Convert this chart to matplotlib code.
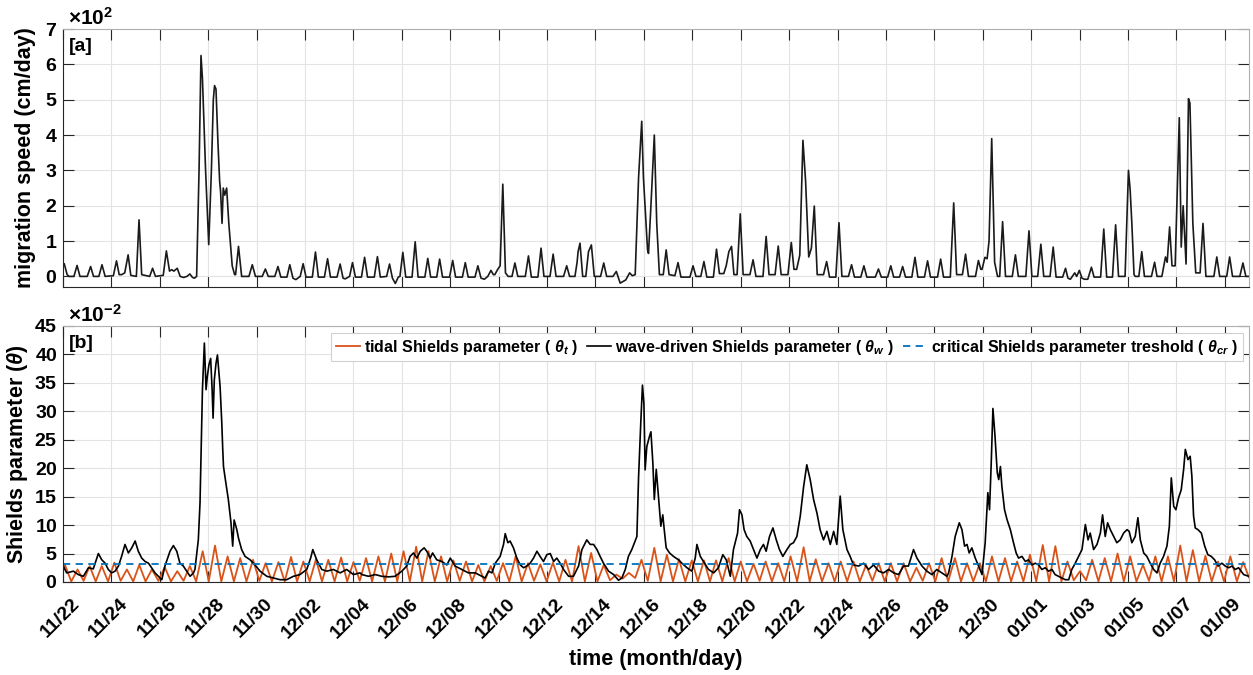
import numpy as np
import matplotlib.pyplot as plt
from matplotlib.ticker import ScalarFormatter
from matplotlib.transforms import ScaledTranslation

plt.rcParams['font.family'] = ['Liberation Sans', 'DejaVu Sans']
plt.rcParams['font.weight'] = 'bold'
plt.rcParams['mathtext.fontset'] = 'custom'
plt.rcParams['mathtext.rm'] = 'Liberation Sans:bold'
plt.rcParams['mathtext.it'] = 'Liberation Sans:italic'

# time axis: days since 11/22 00:00, labelled every two days
tick_labels = ['11/22', '11/24', '11/26', '11/28', '11/30', '12/02', '12/04', '12/06',
               '12/08', '12/10', '12/12', '12/14', '12/16', '12/18', '12/20', '12/22',
               '12/24', '12/26', '12/28', '12/30', '01/01', '01/03', '01/05', '01/07', '01/09']
n_days = 49

# bedform migration speed (day, cm/day)
speed_pts = [
    (0.0, 35), (0.05, 36), (0.17, 5), (0.25, 0), (0.45, 0), (0.58, 31), (0.7, 0), (1.0, 0),
    (1.14, 28), (1.26, 0), (1.48, 0), (1.61, 33), (1.74, 0), (2.08, 2), (2.21, 44), (2.32, 5),
    (2.42, 5), (2.55, 10), (2.69, 61), (2.8, 3), (3.03, 0), (3.14, 160), (3.25, 5), (3.58, 0),
    (3.7, 23), (3.82, 0), (4.14, 3), (4.27, 72), (4.4, 15), (4.49, 19), (4.58, 15), (4.72, 23),
    (4.84, 0), (4.98, -3), (5.12, 0), (5.24, 7), (5.35, -3), (5.43, -5), (5.52, 0),
    (5.62, 300), (5.70, 625), (5.76, 560), (5.81, 460), (5.89, 300), (6.02, 90), (6.13, 300),
    (6.21, 500), (6.26, 540), (6.32, 530), (6.40, 380), (6.47, 270), (6.51, 240), (6.57, 150),
    (6.62, 250), (6.68, 230), (6.76, 250), (6.85, 150), (6.99, 30), (7.09, 5), (7.13, 5),
    (7.25, 85), (7.38, 0), (7.68, 0), (7.82, 33), (7.95, 0), (8.23, 0), (8.36, 21), (8.48, 0),
    (8.75, 0), (8.88, 28), (9.0, -2), (9.25, -2), (9.37, 33), (9.5, -5), (9.62, -9), (9.8, 0),
    (9.92, 36), (10.04, -2), (10.3, -2), (10.43, 69), (10.55, -2), (10.8, -2), (10.93, 50),
    (11.05, -2), (11.32, -2), (11.45, 35), (11.57, -5), (11.66, -7), (11.84, 0), (11.96, 39),
    (12.08, -2), (12.33, -2), (12.46, 54), (12.58, -2), (12.86, -2), (12.99, 56), (13.11, -2),
    (13.37, 0), (13.49, 35), (13.61, -5), (13.73, -20), (13.85, -2), (13.92, 0), (14.04, 68),
    (14.16, -2), (14.42, -2), (14.55, 98), (14.67, -2), (14.95, -2), (15.07, 51), (15.19, -2),
    (15.44, -2), (15.56, 49), (15.68, -2), (15.97, -2), (16.1, 45), (16.22, -2), (16.5, -2),
    (16.62, 39), (16.74, -2), (17.02, -2), (17.14, 30), (17.27, -5), (17.41, -8), (17.55, 0),
    (17.68, 17), (17.78, 5), (17.84, 5), (17.96, 20), (18.06, 30), (18.17, 261), (18.28, 10),
    (18.39, 0), (18.55, 0), (18.67, 38), (18.79, 0), (19.1, 0), (19.23, 58), (19.35, -2),
    (19.62, -2), (19.75, 80), (19.87, 0), (20.12, 0), (20.25, 63), (20.37, 0), (20.68, 0),
    (20.81, 30), (20.93, 0), (21.15, 0), (21.24, 40), (21.28, 70), (21.36, 94), (21.47, 0),
    (21.6, 0), (21.71, 70), (21.83, 89), (21.95, 0), (22.21, 0), (22.34, 38), (22.46, 0),
    (22.72, 0), (22.86, 14), (22.95, -5), (23.02, -19), (23.12, -15), (23.25, -10), (23.41, 10),
    (23.52, 2), (23.64, 5), (23.78, 280), (23.91, 439), (23.98, 280), (24.15, 75), (24.19, 65),
    (24.29, 200), (24.43, 400), (24.53, 150), (24.64, 5), (24.8, 5), (24.92, 75), (25.04, 5),
    (25.28, 2), (25.41, 39), (25.53, -2), (25.9, -2), (26.03, 30), (26.15, 0), (26.35, 0),
    (26.48, 42), (26.6, -2), (26.87, -2), (27.0, 77), (27.12, 8), (27.3, 8), (27.4, 30),
    (27.51, 70), (27.62, 85), (27.72, 5), (27.85, 5), (27.98, 177), (28.1, 5), (28.38, 5),
    (28.51, 47), (28.63, 0), (28.92, 0), (29.05, 113), (29.17, 5), (29.42, 5), (29.55, 86),
    (29.67, 5), (29.95, 5), (30.09, 96), (30.2, 20), (30.31, 20), (30.44, 60), (30.57, 385),
    (30.68, 270), (30.81, 55), (30.92, 80), (31.04, 199), (31.16, 5), (31.42, 5), (31.55, 42),
    (31.67, -2), (31.93, -2), (32.06, 152), (32.18, 0), (32.45, 0), (32.58, 33), (32.7, -2),
    (32.96, -2), (33.09, 30), (33.21, -2), (33.56, -2), (33.69, 21), (33.81, -2), (34.07, -2),
    (34.2, 30), (34.32, -2), (34.56, -2), (34.69, 28), (34.81, -2), (35.07, -2), (35.2, 54),
    (35.32, -2), (35.59, -2), (35.72, 44), (35.84, -2), (36.13, -2), (36.26, 49), (36.38, -2),
    (36.66, -2), (36.8, 208), (36.92, 5), (37.16, 5), (37.29, 63), (37.41, 0), (37.7, 0),
    (37.82, 45), (37.92, 20), (37.97, 20), (38.09, 54), (38.18, 50), (38.26, 100), (38.37, 390),
    (38.49, 40), (38.61, 0), (38.7, 0), (38.82, 155), (38.94, 0), (39.22, 0), (39.35, 61),
    (39.47, 0), (39.78, 0), (39.91, 129), (40.03, 0), (40.27, 0), (40.4, 91), (40.52, 0),
    (40.78, 0), (40.91, 83), (41.03, -2), (41.3, -2), (41.42, 23), (41.52, -5), (41.62, -8),
    (41.7, 0), (41.8, 10), (41.88, 0), (41.99, 17), (42.1, -5), (42.2, -8), (42.34, -8),
    (42.49, 26), (42.6, -2), (42.87, -2), (43.0, 134), (43.12, -2), (43.36, -2), (43.49, 146),
    (43.61, 0), (43.88, 0), (44.02, 300), (44.09, 245), (44.16, 150), (44.25, 5), (44.3, 0),
    (44.45, 0), (44.57, 70), (44.68, 0), (44.97, 0), (45.1, 40), (45.2, 0), (45.4, 0),
    (45.55, 55), (45.62, 40), (45.72, 140), (45.82, 30), (45.95, 30), (46.12, 449), (46.2, 83),
    (46.28, 200), (46.4, 35), (46.5, 503), (46.56, 490), (46.68, 150), (46.8, 10), (46.98, 10),
    (47.1, 150), (47.22, 0), (47.55, 0), (47.67, 55), (47.79, 0), (48.08, 0), (48.2, 55),
    (48.32, 0), (48.62, 0), (48.75, 38), (48.87, 0), (49.0, 0),
]

# tidal Shields parameter, x10^-2: crest and trough readings
tidal_crests = [
    (0.08, 3.0), (0.6, 2.2), (1.1, 2.8), (1.6, 2.8), (2.12, 3.4), (2.64, 2.2), (3.15, 3.0),
    (3.67, 2.2), (4.2, 2.6), (4.72, 1.9), (5.24, 2.8), (5.77, 5.4), (6.28, 6.4), (6.8, 4.5),
    (7.32, 4.2), (7.85, 3.9), (8.37, 3.3), (8.9, 3.5), (9.42, 4.4), (9.93, 3.6), (10.45, 4.0),
    (10.96, 3.9), (11.49, 4.3), (12.0, 3.5), (12.52, 4.2), (13.03, 4.5), (13.56, 5.0),
    (14.07, 5.4), (14.59, 6.2), (15.1, 5.4), (15.62, 4.5), (16.13, 3.8), (16.65, 3.6),
    (17.16, 3.0), (17.67, 2.8), (18.18, 3.3), (18.7, 4.5), (19.21, 3.3), (19.72, 3.1),
    (20.24, 3.4), (20.76, 3.9), (21.3, 6.3), (21.82, 5.1), (22.34, 3.0), (22.86, 1.3),
    (23.38, 1.6), (23.9, 3.9), (24.43, 6.0), (24.95, 4.8), (25.45, 4.0), (25.98, 3.8),
    (26.48, 3.8), (26.98, 3.8), (27.5, 4.2), (28.0, 3.6), (28.53, 3.2), (29.03, 3.6),
    (29.55, 3.3), (30.06, 4.5), (30.6, 6.1), (31.1, 4.0), (31.63, 3.3), (32.13, 3.6),
    (32.66, 3.6), (33.18, 3.0), (33.7, 3.3), (34.2, 3.3), (34.73, 3.3), (35.26, 2.5),
    (35.78, 3.3), (36.3, 4.2), (36.85, 4.2), (37.35, 3.3), (37.88, 3.3), (38.38, 4.5),
    (38.92, 4.2), (39.42, 3.6), (39.95, 4.8), (40.48, 6.5), (41.0, 6.3), (41.5, 3.6),
    (42.02, 1.9), (42.52, 3.9), (43.04, 4.2), (43.57, 5.0), (44.09, 4.5), (44.62, 3.0),
    (45.13, 4.5), (45.65, 4.5), (46.16, 6.4), (46.68, 5.6), (47.2, 4.6), (47.72, 3.6),
    (48.23, 4.5), (48.76, 3.5),
]
tidal_troughs = [
    (0.0, 2.4), (0.34, 0.1), (0.85, 0.2), (1.35, 0.1), (1.86, 0.1), (2.38, 0.2), (2.9, 0.1),
    (3.41, 0.1), (3.94, 0.2), (4.46, 0.1), (4.98, 0.2), (5.5, 0.1), (6.02, 0.1), (6.54, 0.1),
    (7.06, 0.1), (7.58, 0.1), (8.11, 0.2), (8.63, 0.1), (9.16, 0.1), (9.67, 0.1), (10.19, 0.1),
    (10.7, 0.1), (11.22, 0.1), (11.74, 0.1), (12.26, 0.2), (12.77, 0.1), (13.3, 0.1),
    (13.81, 0.1), (14.33, 0.1), (14.84, 0.1), (15.36, 0.1), (15.87, 0.1), (16.39, 0.2),
    (16.9, 0.1), (17.41, 0.1), (17.92, 0.2), (18.44, 0.1), (18.95, 0.1), (19.46, 0.2),
    (19.98, 0.1), (20.5, 0.1), (21.03, 0.1), (21.56, 0.1), (22.08, 0.1), (22.6, 0.3),
    (23.12, 0.6), (23.64, 0.7), (24.16, 0.2), (24.69, 0.1), (25.2, 0.1), (25.71, 0.1),
    (26.23, 0.1), (26.73, 0.1), (27.24, 0.1), (27.75, 0.1), (28.26, 0.1), (28.78, 0.2),
    (29.29, 0.1), (29.8, 0.1), (30.33, 0.1), (30.85, 0.1), (31.36, 0.1), (31.88, 0.1),
    (32.4, 0.1), (32.92, 0.1), (33.44, 0.2), (33.95, 0.1), (34.46, 0.1), (35.0, 0.1),
    (35.52, 0.2), (36.04, 0.1), (36.57, 0.1), (37.1, 0.1), (37.61, 0.1), (38.13, 0.1),
    (38.65, 0.1), (39.17, 0.1), (39.68, 0.1), (40.21, 0.1), (40.74, 0.1), (41.25, 0.1),
    (41.76, 0.3), (42.27, 0.3), (42.78, 0.1), (43.3, 0.1), (43.83, 0.1), (44.35, 0.1),
    (44.87, 0.2), (45.39, 0.1), (45.9, 0.1), (46.42, 0.1), (46.94, 0.1), (47.46, 0.1),
    (47.97, 0.1), (48.5, 0.1), (49.0, 0.8),
]

# wave-driven Shields parameter, x10^-2
wave_pts = [
    (0.01, 2.8), (0.15, 1.6), (0.43, 1.9), (0.63, 1.3), (0.84, 1.0), (1.05, 2.5), (1.25, 2.3),
    (1.46, 5.0), (1.6, 3.9), (1.74, 3.3), (1.87, 2.2), (2.01, 1.6), (2.15, 1.9), (2.29, 2.8),
    (2.42, 4.5), (2.56, 6.6), (2.7, 5.1), (2.84, 6.0), (2.98, 7.2), (3.11, 5.4), (3.25, 4.2),
    (3.39, 3.6), (3.53, 3.3), (3.66, 2.5), (3.8, 1.6), (3.94, 1.0), (4.08, 0.4), (4.21, 2.8),
    (4.42, 5.4), (4.56, 6.4), (4.7, 5.4), (4.83, 3.3), (4.97, 2.8), (5.11, 1.9), (5.25, 1.0),
    (5.39, 1.6), (5.45, 2.2), (5.59, 7.4), (5.66, 13.9), (5.76, 33.8), (5.84, 42.0), (5.91, 33.8),
    (5.96, 36.1), (6.03, 38.2), (6.1, 39.3), (6.16, 33.8), (6.2, 28.8), (6.25, 35.5), (6.32, 38.4),
    (6.38, 39.9), (6.43, 37.3), (6.49, 34.3), (6.56, 27.9), (6.6, 23.2), (6.63, 20.3), (6.69, 18.5),
    (6.83, 14.5), (6.94, 10.4), (7.01, 6.3), (7.07, 10.9), (7.18, 9.2), (7.25, 7.7), (7.38, 5.7),
    (7.52, 4.5), (7.73, 3.9), (7.93, 3.0), (8.14, 1.9), (8.42, 1.0), (8.69, 0.7), (8.97, 0.4),
    (9.24, 0.4), (9.52, 1.0), (9.79, 1.3), (10.07, 2.2), (10.23, 4.2), (10.32, 5.7), (10.48, 3.9),
    (10.69, 2.2), (10.9, 1.9), (11.17, 2.2), (11.45, 1.6), (11.72, 2.2), (12.0, 1.3), (12.27, 1.6),
    (12.35, 1.3), (12.62, 1.0), (12.9, 1.3), (13.17, 1.0), (13.45, 0.9), (13.72, 1.0), (14.0, 1.9),
    (14.2, 2.8), (14.34, 4.5), (14.48, 5.1), (14.62, 4.2), (14.76, 5.4), (14.92, 6.0), (15.03, 5.4),
    (15.17, 4.2), (15.27, 5.1), (15.44, 3.9), (15.65, 3.6), (15.86, 3.0), (16.0, 4.2), (16.2, 2.8),
    (16.48, 2.2), (16.75, 1.6), (17.03, 1.6), (17.3, 1.0), (17.44, 0.7), (17.58, 1.9), (17.72, 1.6),
    (17.86, 3.3), (18.06, 4.5), (18.2, 6.6), (18.27, 8.5), (18.38, 6.9), (18.47, 7.2), (18.61, 6.0),
    (18.75, 4.2), (18.89, 3.0), (19.03, 2.5), (19.16, 2.8), (19.3, 3.3), (19.44, 4.2), (19.58, 5.4),
    (19.71, 4.5), (19.85, 3.6), (19.99, 4.8), (20.13, 5.0), (20.27, 3.6), (20.4, 4.2), (20.54, 3.3),
    (20.68, 2.2), (20.89, 1.0), (21.09, 1.0), (21.3, 2.8), (21.44, 5.7), (21.64, 7.4), (21.78, 6.6),
    (21.92, 6.6), (22.06, 5.7), (22.19, 4.5), (22.33, 3.3), (22.54, 1.9), (22.75, 1.3), (22.95, 0.3),
    (23.09, 0.7), (23.23, 2.2), (23.36, 4.5), (23.5, 5.7), (23.61, 6.9), (23.71, 8.0), (23.78, 18.5),
    (23.87, 27.9), (23.94, 34.6), (24.0, 31.4), (24.05, 19.7), (24.12, 23.8), (24.23, 25.6),
    (24.29, 26.4), (24.37, 20.9), (24.43, 14.5), (24.51, 19.8), (24.6, 15.1), (24.7, 9.8),
    (24.78, 11.8), (24.84, 9.2), (24.92, 6.0), (25.06, 5.1), (25.22, 4.5), (25.43, 3.9),
    (25.57, 3.3), (25.78, 2.5), (25.98, 1.9), (26.12, 4.2), (26.19, 6.6), (26.33, 4.5), (26.46, 3.6),
    (26.67, 2.2), (26.88, 1.6), (27.08, 2.5), (27.26, 4.8), (27.4, 3.9), (27.57, 1.0), (27.7, 5.7),
    (27.87, 8.6), (27.95, 12.7), (28.05, 11.8), (28.14, 9.2), (28.25, 8.0), (28.39, 7.2),
    (28.53, 5.7), (28.67, 4.2), (28.81, 5.7), (28.94, 6.6), (29.05, 5.4), (29.19, 8.0), (29.33, 9.5),
    (29.47, 7.4), (29.6, 5.7), (29.74, 4.5), (29.91, 5.7), (30.05, 6.6), (30.18, 6.9), (30.32, 8.0),
    (30.46, 11.6), (30.6, 16.8), (30.73, 20.6), (30.87, 18.0), (31.01, 14.5), (31.15, 12.1),
    (31.28, 9.2), (31.42, 7.4), (31.56, 8.9), (31.7, 6.6), (31.84, 8.9), (31.97, 6.6), (32.11, 15.1),
    (32.22, 9.2), (32.39, 5.7), (32.52, 4.5), (32.66, 3.0), (32.87, 2.8), (33.08, 3.3), (33.28, 2.2),
    (33.49, 3.0), (33.7, 1.9), (33.9, 1.6), (34.11, 2.2), (34.32, 1.6), (34.52, 1.3), (34.73, 2.8),
    (34.93, 2.8), (35.14, 5.7), (35.28, 4.2), (35.49, 2.8), (35.69, 1.9), (35.9, 1.3), (36.1, 2.2),
    (36.31, 1.6), (36.52, 1.0), (36.59, 1.6), (36.73, 4.5), (36.86, 8.0), (37.03, 10.4),
    (37.14, 9.2), (37.25, 6.3), (37.35, 6.6), (37.44, 5.1), (37.55, 6.0), (37.69, 4.2), (37.83, 2.8),
    (37.97, 1.3), (38.1, 6.9), (38.21, 15.7), (38.28, 12.7), (38.35, 20.9), (38.42, 30.5),
    (38.5, 26.0), (38.53, 23.9), (38.6, 19.2), (38.66, 18.0), (38.73, 20.3), (38.79, 16.8),
    (38.9, 12.7), (39.0, 11.0), (39.14, 9.2), (39.27, 6.9), (39.38, 5.1), (39.48, 4.2), (39.62, 4.5),
    (39.76, 3.6), (39.89, 3.9), (40.03, 3.0), (40.17, 3.3), (40.31, 3.0), (40.44, 2.2), (40.58, 2.5),
    (40.72, 1.9), (40.86, 2.2), (40.99, 1.3), (41.13, 1.0), (41.27, 0.7), (41.41, 0.4), (41.55, 0.4),
    (41.68, 2.2), (41.82, 3.3), (41.96, 4.5), (42.1, 5.7), (42.24, 10.1), (42.35, 7.4), (42.44, 8.6),
    (42.58, 5.7), (42.72, 6.6), (42.86, 8.6), (42.95, 11.8), (43.06, 8.0), (43.16, 10.4),
    (43.27, 9.2), (43.41, 8.0), (43.54, 6.9), (43.68, 7.4), (43.82, 8.6), (43.96, 9.2), (44.05, 8.9),
    (44.16, 6.9), (44.3, 8.0), (44.41, 11.3), (44.51, 7.4), (44.65, 5.1), (44.78, 4.5), (44.92, 3.3),
    (45.06, 2.2), (45.2, 1.6), (45.33, 3.3), (45.47, 4.5), (45.61, 6.3), (45.71, 9.8), (45.79, 18.3),
    (45.89, 13.3), (45.98, 12.7), (46.09, 14.8), (46.2, 16.2), (46.3, 19.8), (46.37, 23.3),
    (46.48, 21.5), (46.57, 22.1), (46.64, 18.6), (46.71, 11.6), (46.78, 9.5), (46.89, 9.2),
    (47.03, 8.6), (47.17, 6.3), (47.3, 4.8), (47.44, 4.5), (47.58, 3.9), (47.72, 2.8), (47.88, 3.3),
    (48.02, 2.8), (48.16, 2.5), (48.3, 2.8), (48.43, 2.2), (48.57, 2.5), (48.78, 1.3), (48.99, 1.0),
]

theta_cr = 3.1  # x10^-2

series_labels = [r'tidal Shields parameter ( $\theta_t$ )',
                 r'wave-driven Shields parameter ( $\theta_w$ )',
                 r'critical Shields parameter treshold ( $\theta_{cr}$ )']

c_tide = '#D95319'
c_crit = '#0072BD'
c_axis = '#262626'

speed_t, speed_v = np.array(speed_pts).T
wave_t, wave_v = np.array(wave_pts).T
tide = np.array(sorted(tidal_crests + tidal_troughs))
tide_t, tide_v = tide.T

fig = plt.figure(figsize=(12.53, 6.75), dpi=100)
ax1 = fig.add_axes([0.0503, 0.5748, 0.9465, 0.3822])
ax2 = fig.add_axes([0.0503, 0.1378, 0.9465, 0.3793])

ax1.plot(speed_t, speed_v, color='#1a1a1a', lw=1.2)
ax1.set_ylim(-30, 700)
ax1.set_yticks(np.arange(0, 701, 100))
ax1.set_ylabel('migration speed (cm/day)', fontsize=15.5, fontweight='bold', labelpad=6)

ax2.plot(tide_t, tide_v * 1e-2, color=c_tide, lw=1.3, label=series_labels[0])
ax2.plot(wave_t, wave_v * 1e-2, color='black', lw=1.2, label=series_labels[1])
ax2.axhline(theta_cr * 1e-2, color=c_crit, lw=1.3, ls=(0, (4, 3)), label=series_labels[2])
ax2.set_ylim(0, 0.45)
ax2.set_yticks(np.arange(0, 0.4501, 0.05))
ax2.set_ylabel(r'Shields parameter ($\theta$)', fontsize=15.5, fontweight='bold', labelpad=3)
ax2.set_xlabel('time (month/day)', fontsize=15.5, fontweight='bold', labelpad=5)

for ax, power, tag in [(ax1, 2, '[a]'), (ax2, -2, '[b]')]:
    ax.set_xlim(0, n_days)
    ax.tick_params(direction='in', length=8, width=0.8, color=c_axis, labelsize=14,
                   top=True, right=True, pad=4)
    ax.tick_params(axis='x', pad=14)
    ax.set_xticks(np.arange(len(tick_labels)) * 2)
    fmt = ScalarFormatter(useMathText=True)
    fmt.set_powerlimits((power, power))
    ax.yaxis.set_major_formatter(fmt)
    off = ax.yaxis.get_offset_text()
    off.set_fontsize(15)
    off.set_fontweight('bold')
    off.set_x(0.004)
    ax.grid(True, color='#e3e3e3', lw=0.8)
    ax.set_axisbelow(True)
    for side in ['left', 'bottom']:
        ax.spines[side].set_color(c_axis)
    for side in ['top', 'right']:
        ax.spines[side].set_color('#b0b0b0')
    ax.text(0.005, 0.965, tag, transform=ax.transAxes, ha='left', va='top',
            fontsize=14, fontweight='bold')

ax1.set_xticklabels([])
ax2.set_xticklabels(tick_labels, rotation=45, ha='right', va='center', rotation_mode='anchor')
shift = ScaledTranslation(0.14, 0, fig.dpi_scale_trans)
for lab in ax2.get_xticklabels():
    lab.set_transform(lab.get_transform() + shift)

leg = ax2.legend(loc='upper right', ncol=3, fontsize=11.5, frameon=True, fancybox=False,
                 edgecolor='#d0d0d0', framealpha=1, handlelength=1.5, handletextpad=0.25,
                 columnspacing=0.55, borderpad=0.3, borderaxespad=0,
                 bbox_to_anchor=(0.995, 0.973))
leg.get_frame().set_linewidth(0.8)

fig.savefig('out.png', dpi=100)
